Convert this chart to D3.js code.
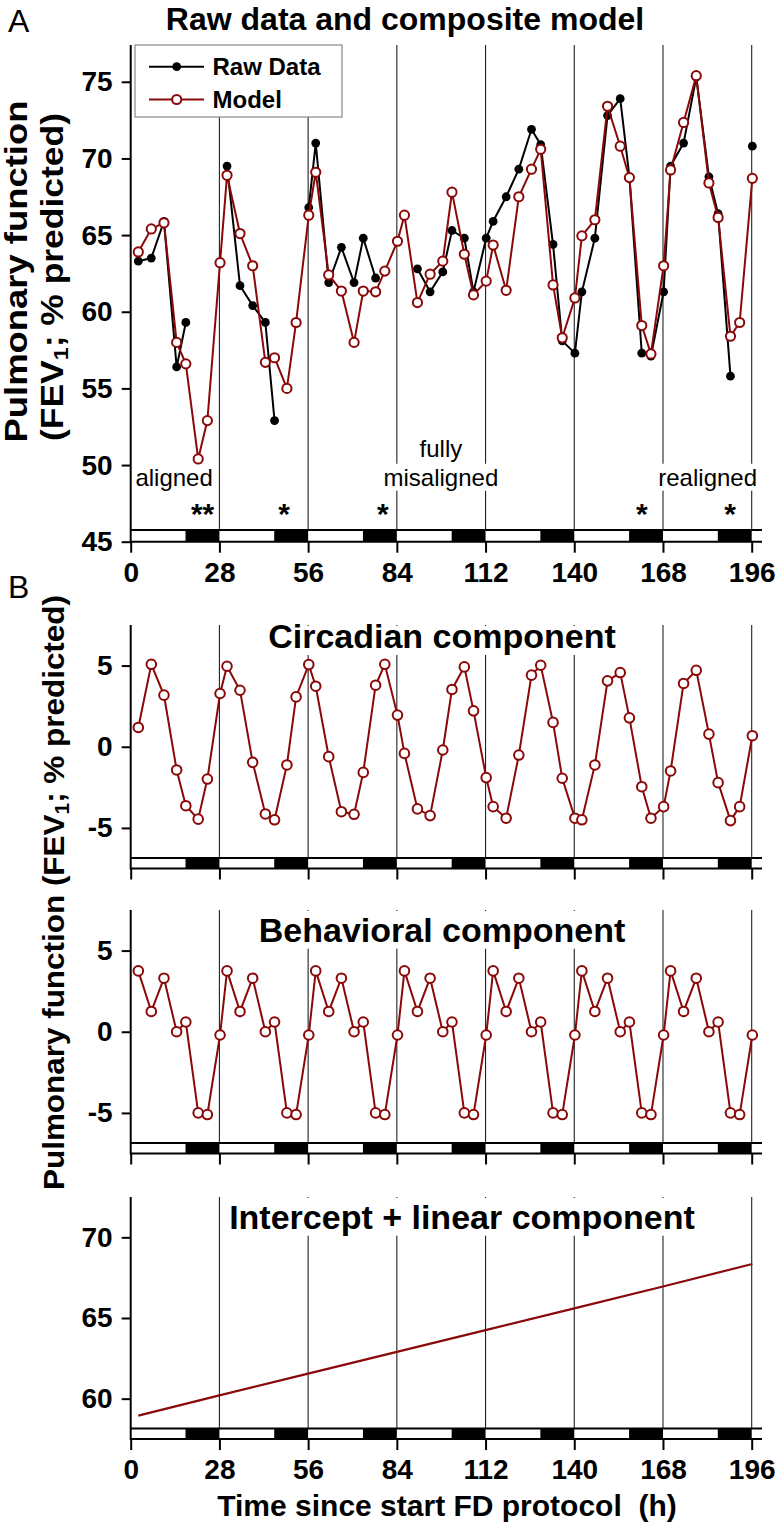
<!DOCTYPE html>
<html><head><meta charset="utf-8">
<script src="https://cdn.jsdelivr.net/npm/d3@7"></script>
<style>
body{margin:0;background:#fff}
svg{display:block}
text{font-family:"Liberation Sans",Arial,Helvetica,sans-serif}
</style>
</head><body>
<svg id="c" width="778" height="1524"></svg>
<script>
// ---------------- data ----------------
const times = [
  2.4, 6.5, 10.5, 14.5, 17.4, 21.3, 24.2, 28.2,
  30.4, 34.5, 38.5, 42.5, 45.4, 49.3, 52.2, 56.2,
  58.4, 62.5, 66.5, 70.5, 73.4, 77.3, 80.2, 84.2,
  86.4, 90.5, 94.5, 98.5, 101.4, 105.3, 108.2, 112.2,
  114.4, 118.5, 122.5, 126.5, 129.4, 133.3, 136.2, 140.2,
  142.4, 146.5, 150.5, 154.5, 157.4, 161.3, 164.2, 168.2,
  170.4, 174.5, 178.5, 182.5, 185.4, 189.3, 192.2, 196.2
];
const rawValues = [
  63.3, 63.5, 65.9, 56.4, 59.3, null, null, null,
  69.5, 61.7, 60.4, 59.3, 52.9, null, null, 66.8,
  71.0, 61.9, 64.2, 61.9, 64.8, 62.2, null, null,
  null, 62.8, 61.3, 62.6, 65.3, 64.8, 61.3, 64.8,
  65.9, 67.5, 69.3, 71.9, 70.9, 64.4, 58.1, 57.3,
  61.3, 64.8, 72.8, 73.9, 68.8, 57.3, 57.1, 61.3,
  69.5, 71.0, 75.3, 68.8, 66.4, 55.8, null, 70.8
];
const modelValues = [
  63.9, 65.4, 65.8, 58.0, 56.6, 50.4, 52.9, 63.2,
  68.9, 65.1, 63.0, 56.7, 57.0, 55.0, 59.3, 66.3,
  69.1, 62.4, 61.35, 58.0, 61.35, 61.3, 62.65, 64.6,
  66.3, 60.6, 62.45, 63.3, 67.8, 63.75, 61.1, 62.0,
  64.35, 61.4, 67.5, 69.3, 70.6, 61.75, 58.3, 60.9,
  64.95, 66.0, 73.4, 70.8, 68.75, 59.1, 57.25, 63.0,
  69.25, 72.35, 75.4, 68.4, 66.15, 58.4, 59.3, 68.7
];
const circadianValues = [
  1.19, 5.08, 3.18, -1.43, -3.63, -4.46, -1.99, 3.28,
  4.96, 3.48, -0.96, -4.14, -4.5, -1.12, 3.07, 5.06,
  3.73, -0.61, -4.0, -4.16, -1.58, 3.79, 5.08, 1.95,
  -0.41, -3.83, -4.24, -0.2, 3.53, 4.92, 2.21, -1.9,
  -3.69, -4.4, -0.51, 4.41, 5.02, 1.5, -1.94, -4.4,
  -4.5, -1.12, 4.06, 4.57, 1.78, -2.46, -4.4, -3.69,
  -1.49, 3.9, 4.71, 0.78, -2.21, -4.55, -3.69, 0.68
];
const behavioralValues = [
  3.75, 1.25, 3.3, 0.0, 0.6, -5.0, -5.1, -0.2,
  3.75, 1.25, 3.3, 0.0, 0.6, -5.0, -5.1, -0.2,
  3.75, 1.25, 3.3, 0.0, 0.6, -5.0, -5.1, -0.2,
  3.75, 1.25, 3.3, 0.0, 0.6, -5.0, -5.1, -0.2,
  3.75, 1.25, 3.3, 0.0, 0.6, -5.0, -5.1, -0.2,
  3.75, 1.25, 3.3, 0.0, 0.6, -5.0, -5.1, -0.2,
  3.75, 1.25, 3.3, 0.0, 0.6, -5.0, -5.1, -0.2
];
const linearTimes = [2.4, 28, 56, 84, 112, 140, 168, 196.2];
const linearValues = [58.95, 60.2, 61.55, 62.9, 64.25, 65.6, 66.95, 68.35];

const darkStart = [17.3, 45.3, 73.3, 101.3, 129.3, 157.3, 185.3];
const darkEnd   = [28, 56, 84, 112, 140, 168, 196];
const xTicks = [0, 28, 56, 84, 112, 140, 168, 196];
const gridTimes = [28, 56, 84, 112, 140, 168, 196];
const yTicksA = [45, 50, 55, 60, 65, 70, 75];
const yTicksB = [-5, 0, 5];
const yTicksC = [60, 65, 70];

const phaseLabels = ["aligned", "fully", "misaligned", "realigned"];
const starLabels = ["**", "*", "*", "*", "*"];
const starTimes = [22.7, 48.4, 79.6, 161.3, 189.2];

// ---------------- drawing ----------------
const svg = d3.select("#c");
const RED = "#8a0808";
const X0 = 130.7, X1 = 751.7, XEND = 762;
const x = d3.scaleLinear().domain([0, 196]).range([X0, X1]);

function panel(top, bottom, domain, yTicks, barH, showXLabels) {
  const g = svg.append("g");
  const y = d3.scaleLinear().domain(domain).range([bottom, top]);
  const barTop = bottom - barH;
  const grid = g.append("g");
  grid.selectAll("line").data(gridTimes).join("line")
    .attr("x1", d => x(d)).attr("x2", d => x(d))
    .attr("y1", top).attr("y2", barTop)
    .attr("stroke", "#222").attr("stroke-width", 1.1);
  const overlay = g.append("g");
  g.append("g").selectAll("rect").data(darkStart).join("rect")
    .attr("x", (d) => x(d)).attr("width", (d, i) => x(darkEnd[i]) - x(d))
    .attr("y", barTop).attr("height", barH).attr("fill", "#000");
  g.append("line").attr("x1", X0).attr("x2", XEND).attr("y1", barTop).attr("y2", barTop)
    .attr("stroke", "#000").attr("stroke-width", 2);
  g.append("line").attr("x1", X0).attr("x2", XEND).attr("y1", bottom).attr("y2", bottom)
    .attr("stroke", "#000").attr("stroke-width", 2);
  const ya = g.append("g").attr("transform", `translate(${X0},0)`)
    .call(d3.axisLeft(y).tickValues(yTicks).tickSize(9).tickPadding(9).tickFormat(d => String(d)));
  ya.select(".domain").remove();
  ya.selectAll(".tick line").attr("stroke", "#000").attr("stroke-width", 2);
  ya.selectAll(".tick text").attr("font-size", 28).attr("font-weight", "bold")
    .attr("font-family", '"Liberation Sans",Arial,sans-serif').attr("fill", "#000");
  g.append("line").attr("x1", X0).attr("x2", X0).attr("y1", top).attr("y2", bottom + 1)
    .attr("stroke", "#000").attr("stroke-width", 2);
  const xa = g.append("g").attr("transform", `translate(0,${bottom})`)
    .call(d3.axisBottom(x).tickValues(xTicks).tickSize(11).tickPadding(9)
      .tickFormat(d => showXLabels ? String(d) : ""));
  xa.select(".domain").remove();
  xa.selectAll(".tick line").attr("stroke", "#000").attr("stroke-width", 2);
  xa.selectAll(".tick text").attr("font-size", 28).attr("font-weight", "bold")
    .attr("font-family", '"Liberation Sans",Arial,sans-serif').attr("fill", "#000");
  return { g, y, barTop, overlay };
}

function title(layer, txt, cx, baseline, top, size) {
  const t = layer.append("text").attr("x", cx).attr("y", baseline).attr("text-anchor", "middle")
    .attr("font-size", size).attr("font-weight", "bold").text(txt);
  const b = t.node().getBBox();
  layer.insert("rect", () => t.node()).attr("x", b.x - 6).attr("y", top + 1)
    .attr("width", b.width + 12).attr("height", baseline + 7 - top - 1).attr("fill", "#fff");
  return t;
}

function boxedText(layer, txt, cx, baseline, size) {
  const t = layer.append("text").attr("x", cx).attr("y", baseline).attr("text-anchor", "middle")
    .attr("font-size", size).text(txt);
  const b = t.node().getBBox();
  layer.insert("rect", () => t.node()).attr("x", b.x - 2).attr("y", b.y)
    .attr("width", b.width + 4).attr("height", b.height).attr("fill", "#fff");
  return t;
}

// ---------- Panel A ----------
const A = panel(45, 541.7, [45, 77.4], yTicksA, 11.7, true);
const yA = A.y;
const annG = A.overlay;
boxedText(annG, phaseLabels[0], x(13.7), yA(48.65), 24);
boxedText(annG, phaseLabels[1], x(97.9), yA(50.55), 24);
boxedText(annG, phaseLabels[2], x(97.9), yA(48.65), 24);
boxedText(annG, phaseLabels[3], x(182.1), yA(48.65), 24);
annG.selectAll("text.star").data(starTimes).join("text").attr("class", "star")
  .attr("x", d => x(d)).attr("y", yA(46.15)).attr("text-anchor", "middle")
  .attr("font-size", 30).attr("font-weight", "bold").text((d, i) => starLabels[i]);

const rawPts = times.map((t, i) => [t, rawValues[i]]);
const modelPts = times.map((t, i) => [t, modelValues[i]]);
const lineA = d3.line().defined(d => d[1] !== null).x(d => x(d[0])).y(d => yA(d[1]));
A.g.append("path").datum(rawPts).attr("d", lineA).attr("fill", "none")
  .attr("stroke", "#000").attr("stroke-width", 2);
A.g.append("g").selectAll("circle").data(rawPts.filter(d => d[1] !== null)).join("circle")
  .attr("cx", d => x(d[0])).attr("cy", d => yA(d[1])).attr("r", 4.4).attr("fill", "#000");
A.g.append("path").datum(modelPts).attr("d", lineA).attr("fill", "none")
  .attr("stroke", RED).attr("stroke-width", 2);
A.g.append("g").selectAll("circle").data(modelPts).join("circle")
  .attr("cx", d => x(d[0])).attr("cy", d => yA(d[1])).attr("r", 4.6)
  .attr("fill", "#fff").attr("stroke", RED).attr("stroke-width", 2);

// legend
const lg = svg.append("g");
lg.append("rect").attr("x", 135).attr("y", 45).attr("width", 207).attr("height", 72)
  .attr("fill", "#fff").attr("stroke", "#888").attr("stroke-width", 1.2);
lg.append("line").attr("x1", 149).attr("x2", 204).attr("y1", 66.7).attr("y2", 66.7)
  .attr("stroke", "#000").attr("stroke-width", 2);
lg.append("circle").attr("cx", 176.7).attr("cy", 66.7).attr("r", 4.4).attr("fill", "#000");
lg.append("text").attr("x", 212.5).attr("y", 75).attr("font-size", 24).attr("font-weight", "bold").text("Raw Data");
lg.append("line").attr("x1", 149).attr("x2", 204).attr("y1", 99.5).attr("y2", 99.5)
  .attr("stroke", RED).attr("stroke-width", 2);
lg.append("circle").attr("cx", 176.7).attr("cy", 99.5).attr("r", 4.6)
  .attr("fill", "#fff").attr("stroke", RED).attr("stroke-width", 2);
lg.append("text").attr("x", 212.5).attr("y", 108).attr("font-size", 24).attr("font-weight", "bold").text("Model");

svg.append("text").attr("x", 405).attr("y", 30).attr("text-anchor", "middle")
  .attr("font-size", 32).attr("font-weight", "bold").text("Raw data and composite model");

// Y label A (two lines, stretched along their length as in the figure)
svg.append("text").attr("transform", "translate(27,271.5) rotate(-90)")
  .attr("text-anchor", "middle").attr("font-size", 30.5).attr("font-weight", "bold")
  .attr("textLength", 342).attr("lengthAdjust", "spacingAndGlyphs").text("Pulmonary function");
const yl2 = svg.append("text").attr("transform", "translate(63,277) rotate(-90)")
  .attr("text-anchor", "middle").attr("font-size", 30.5).attr("font-weight", "bold")
  .attr("textLength", 328).attr("lengthAdjust", "spacingAndGlyphs");
yl2.append("tspan").text("(FEV");
yl2.append("tspan").attr("font-size", 20).attr("baseline-shift", "-25%").text("1");
yl2.append("tspan").text("; % predicted)");

svg.append("text").attr("x", 8).attr("y", 32).attr("font-size", 32).text("A");
svg.append("text").attr("x", 8).attr("y", 598).attr("font-size", 32).text("B");

// ---------- Panels B1/B2 ----------
function componentPanel(top, bottom, values, name, baseline) {
  const P = panel(top, bottom, [-7.5, 7.5], yTicksB, 10.5, false);
  title(P.overlay, name, 442, baseline, top, 34);
  const pts = times.map((t, i) => [t, values[i]]);
  const ln = d3.line().x(d => x(d[0])).y(d => P.y(d[1]));
  P.g.append("path").datum(pts).attr("d", ln).attr("fill", "none")
    .attr("stroke", RED).attr("stroke-width", 2);
  P.g.append("g").selectAll("circle").data(pts).join("circle")
    .attr("cx", d => x(d[0])).attr("cy", d => P.y(d[1])).attr("r", 4.8)
    .attr("fill", "#fff").attr("stroke", RED).attr("stroke-width", 2);
  return P;
}
componentPanel(625, 868.5, circadianValues, "Circadian component", 648);
componentPanel(910, 1153.5, behavioralValues, "Behavioral component", 941.7);

// ---------- Panel B3: linear ----------
const C = panel(1197, 1439, [57.5, 72.5], yTicksC, 10.5, true);
title(C.overlay, "Intercept + linear component", 462, 1197 + 31.7, 1197, 34);
const linPts = linearTimes.map((t, i) => [t, linearValues[i]]);
C.g.append("path").datum(linPts)
  .attr("d", d3.line().x(d => x(d[0])).y(d => C.y(d[1])))
  .attr("fill", "none").attr("stroke", RED).attr("stroke-width", 2.2);

svg.append("text").attr("x", 447).attr("y", 1516).attr("text-anchor", "middle")
  .attr("font-size", 30).attr("font-weight", "bold").attr("xml:space", "preserve")
  .text("Time since start FD protocol  (h)");

const yl3 = svg.append("text").attr("transform", "translate(64,892.5) rotate(-90)")
  .attr("text-anchor", "middle").attr("font-size", 30).attr("font-weight", "bold")
  .attr("textLength", 595).attr("lengthAdjust", "spacingAndGlyphs");
yl3.append("tspan").text("Pulmonary function (FEV");
yl3.append("tspan").attr("font-size", 20).attr("baseline-shift", "-25%").text("1");
yl3.append("tspan").text("; % predicted)");
</script>
</body></html>
